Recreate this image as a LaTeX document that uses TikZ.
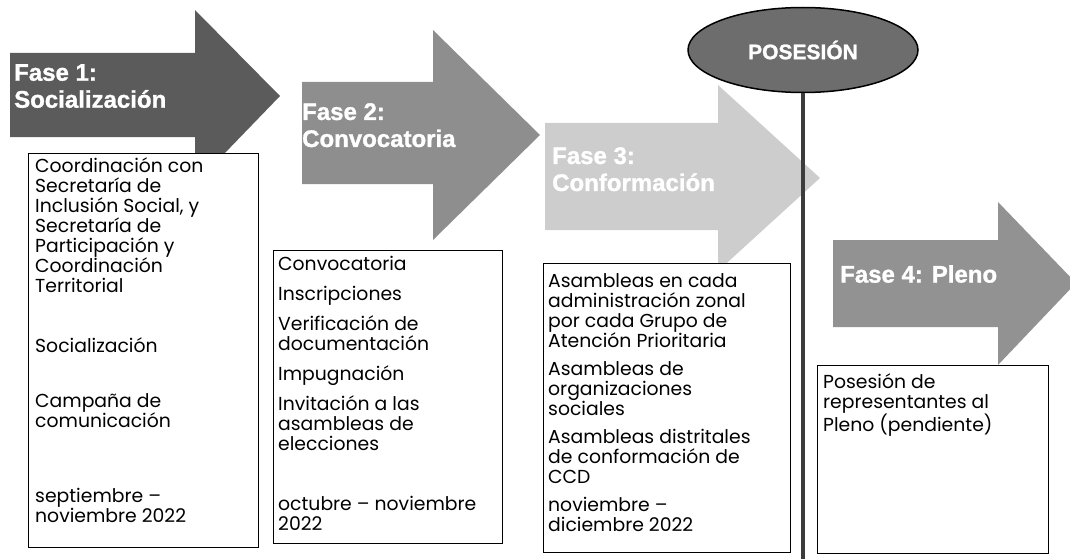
\documentclass[tikz,border=0pt]{standalone}
\usepackage{fontspec}
\setmainfont{Poppins}
\newfontfamily\headfont[BoldFeatures={FakeBold=1.2}]{Liberation Sans}
\usetikzlibrary{shapes.geometric}
\definecolor{aone}{HTML}{5B5B5B}
\definecolor{atwo}{HTML}{8E8E8E}
\definecolor{athree}{HTML}{CDCDCD}
\definecolor{afour}{HTML}{929292}
\definecolor{possc}{HTML}{6D6D6D}
\definecolor{linec}{HTML}{3C3C3C}
\begin{document}
\begin{tikzpicture}[x=1pt,y=1pt,
  textbox/.style={draw=black, line width=1.1pt, fill=white, anchor=north west, inner sep=0pt},
  txt/.style={anchor=north west, align=left, inner sep=0pt, text=black,
    font=\fontsize{18.8}{20}\selectfont},
  head/.style={anchor=north west, align=left, inner sep=0pt, text=white,
    font=\headfont\bfseries\fontsize{24}{27}\selectfont},
]
\useasboundingbox (0,0) rectangle (1070,-559);
\clip (0,0) rectangle (1070,-559);
\newcommand{\fs}{\rule{0pt}{18pt}}
% phase arrows
\fill[aone] (10,-53) -- (195,-53) -- (195,-10) -- (280,-96) -- (195,-184) -- (195,-137) -- (10,-137) -- cycle;
\fill[atwo] (302,-82) -- (433,-82) -- (433,-30) -- (540,-135) -- (433,-240) -- (433,-184) -- (302,-184) -- cycle;
\fill[athree] (545,-123) -- (718,-123) -- (718,-85) -- (820,-178) -- (718,-271) -- (718,-230) -- (545,-230) -- cycle;
\fill[afour] (833,-240) -- (998,-240) -- (998,-202) -- (1076,-283) -- (998,-365) -- (998,-327) -- (833,-327) -- cycle;
% headings
\node[head] (h1) at (14,-64) {Fase 1:\\Socialización};
\node[head] (h2) at (302,-103) {Fase 2:\\Convocatoria};
\node[head] (h3) at (552,-147) {Fase 3:\\Conformación};
\node[head] (h4) at (840,-265) {Fase 4: Pleno};
% boxes
\node[textbox, minimum width=230pt, minimum height=394pt] (b1) at (28,-153) {};
\node[textbox, minimum width=229pt, minimum height=293pt] (b2) at (273,-250) {};
\node[textbox, minimum width=247pt, minimum height=289pt] (b3) at (543,-263) {};
\node[textbox, minimum width=231pt, minimum height=188pt] (b4) at (817,-365) {};
% box texts
\node[txt] (t1) at (35,-154) {\fs Coordinación con\\ Secretaría de\\ Inclusión Social, y\\ Secretaría de\\ Participación y\\ Coordinación\\ Territorial\\[40pt] Socialización\\[35pt] Campaña de\\ comunicación\\[55pt] septiembre –\\ noviembre 2022};
\node[txt] (t2) at (278,-252) {\fs Convocatoria\\[10pt] Inscripciones\\[10pt] Verificación de\\ documentación\\[10pt] Impugnación\\[10pt] Invitación a las\\ asambleas de\\ elecciones\\[40pt] octubre – noviembre\\ 2022};
\node[txt] (t3) at (548,-269) {\fs Asambleas en cada\\ administración zonal\\ por cada Grupo de\\ Atención Prioritaria\\[8pt] Asambleas de\\ organizaciones\\ sociales\\[8pt] Asambleas distritales\\ de conformación de\\ CCD\\[8pt] noviembre –\\ diciembre 2022};
\node[txt] (t4) at (823,-370) {\fs Posesión de\\ representantes al\\ Pleno (pendiente)};
% possession marker
\node[ellipse, draw=black, line width=1.5pt, fill=possc, minimum width=230pt, minimum height=85pt,
  text=white, font=\headfont\bfseries\fontsize{21}{24}\selectfont] (pos) at (803,-50) {POSESIÓN};
\coordinate (lb) at (803,-559);
\draw[linec, line width=4.5pt] (pos.south) -- (lb);
\end{tikzpicture}
\end{document}
